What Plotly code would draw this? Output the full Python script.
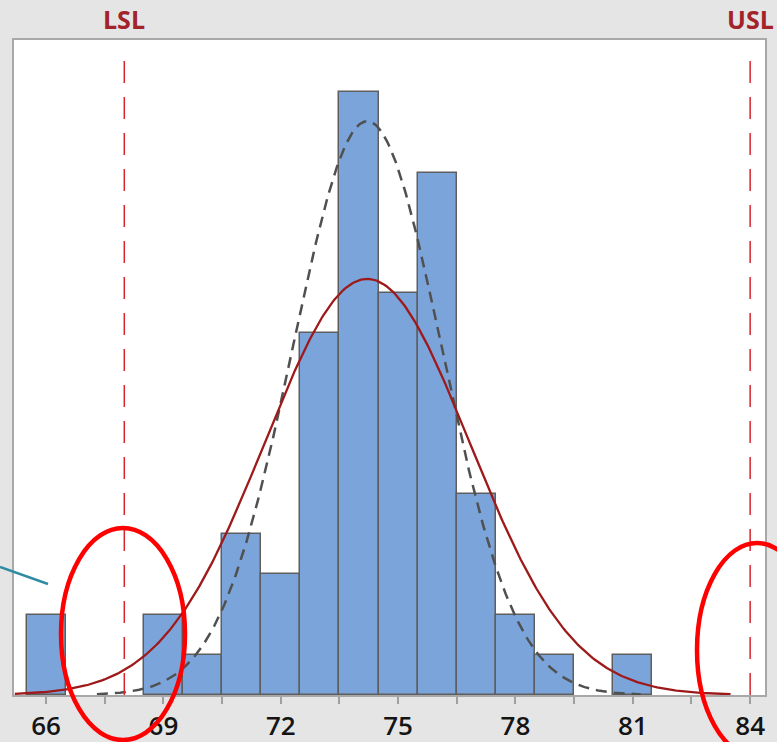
import numpy as np
import plotly.graph_objects as go

# ---- data ----
bin_centers = [66, 69, 70, 71, 72, 73, 74, 75, 76, 77, 78, 79, 81]
bin_counts = [2, 2, 1, 4, 3, 9, 15, 10, 13, 5, 2, 1, 1]
bin_width = 1.0

process_mean = 74.21
sd_overall = 2.62
sd_within = 1.90

lsl = 68
usl = 84

tick_vals = [66, 67.5, 69, 70.5, 72, 73.5, 75, 76.5, 78, 79.5, 81, 82.5, 84]
tick_text = ["66", "", "69", "", "72", "", "75", "", "78", "", "81", "", "84"]

n_total = sum(bin_counts)


def normal_curve(xs, mu, sd):
    xs = np.asarray(xs)
    return n_total * bin_width / (sd * np.sqrt(2 * np.pi)) * np.exp(-0.5 * ((xs - mu) / sd) ** 2)


x_overall = np.linspace(65.2, 83.5, 400)
x_within = np.linspace(67.3, 81.2, 400)

fig = go.Figure()

fig.add_trace(go.Bar(
    x=bin_centers, y=bin_counts, width=bin_width,
    marker=dict(color="#7BA5DA", line=dict(color="#5E5E5E", width=1.5)),
    showlegend=False, hoverinfo="skip",
))

fig.add_trace(go.Scatter(
    x=x_within, y=normal_curve(x_within, process_mean, sd_within),
    mode="lines", line=dict(color="#505050", width=2.5, dash="11px,7px"),
    showlegend=False, hoverinfo="skip",
))

fig.add_trace(go.Scatter(
    x=x_overall, y=normal_curve(x_overall, process_mean, sd_overall),
    mode="lines", line=dict(color="#9E1A1A", width=2.3),
    showlegend=False, hoverinfo="skip",
))

# plot area pixel geometry (for annotation shapes)
L, R, T, B = 14, 765, 40, 695
W, H = 777, 742


def px(xp):
    return (xp - L) / (R - L)


def py(yp):
    return (B - yp) / (B - T)


shapes = []
for spec in (lsl, usl):
    shapes.append(dict(type="line", xref="x", yref="paper", x0=spec, x1=spec,
                       y0=py(695), y1=py(52),
                       line=dict(color="#D9252E", width=1.5, dash="22px,14px")))

# red hand-drawn ellipses
shapes.append(dict(type="circle", xref="paper", yref="paper",
                   x0=px(61), x1=px(185), y0=py(740), y1=py(528),
                   line=dict(color="#FF0000", width=4.5)))
shapes.append(dict(type="circle", xref="paper", yref="paper",
                   x0=px(697), x1=px(817), y0=py(757), y1=py(543),
                   line=dict(color="#FF0000", width=4.5)))
# teal pointer line
shapes.append(dict(type="line", xref="paper", yref="paper",
                   x0=px(0), x1=px(48), y0=py(567), y1=py(584),
                   line=dict(color="#2F8CA3", width=2.5)))

annotations = []
for spec, name in ((lsl, "LSL"), (usl, "USL")):
    annotations.append(dict(x=spec, xref="x", y=py(19), yref="paper", text=name,
                            showarrow=False, xanchor="center", yanchor="middle",
                            font=dict(family="Open Sans", size=25, color="#A3232A", weight=700)))

fig.update_layout(
    width=W, height=H,
    margin=dict(l=L, r=W - R, t=T, b=H - B, autoexpand=False),
    paper_bgcolor="#E5E5E5", plot_bgcolor="#FFFFFF",
    bargap=0,
    shapes=shapes, annotations=annotations,
    xaxis=dict(range=[65.18, 84.38], tickvals=tick_vals, ticktext=tick_text,
               ticks="outside", ticklen=7, tickwidth=1.5, tickcolor="#A0A0A0",
               showline=True, linecolor="#A8A8A8", linewidth=2, mirror=True,
               showgrid=False, zeroline=False, automargin=False,
               tickfont=dict(family="Open Sans", size=26, color="#141414", weight=600)),
    yaxis=dict(range=[0, 16.3], showticklabels=False, ticks="",
               showline=True, linecolor="#A8A8A8", linewidth=2, mirror=True,
               showgrid=False, zeroline=False, automargin=False),
)

fig.write_html("out.html")
